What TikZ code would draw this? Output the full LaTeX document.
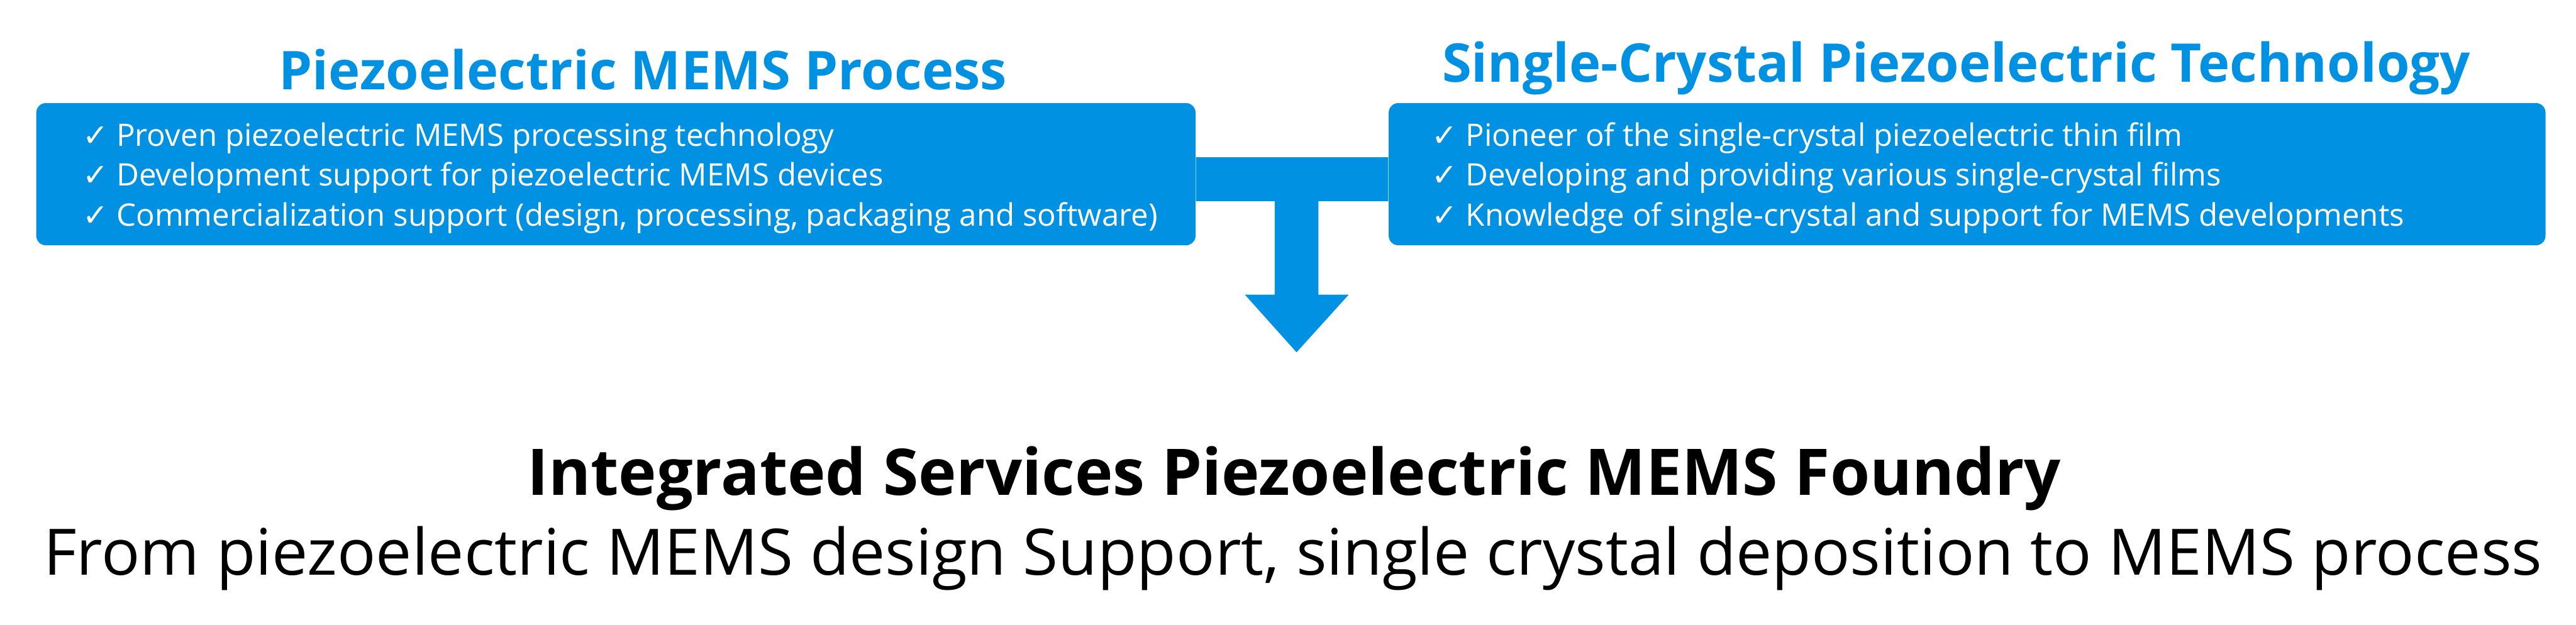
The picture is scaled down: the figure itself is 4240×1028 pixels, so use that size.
\documentclass[tikz,border=0pt]{standalone}
\usepackage{fontspec}
\setmainfont{Open Sans}
\newfontfamily\symfont{DejaVu Sans}
\definecolor{mblue}{RGB}{0,145,226}
\begin{document}
\begin{tikzpicture}[x=0.01cm,y=-0.01cm,
  box/.style={fill=mblue, rounded corners=4.5pt, inner sep=0, anchor=north west},
  ttl/.style={text=mblue, font=\fontsize{25}{30}\selectfont\bfseries, anchor=base, inner sep=0},
  item/.style={text=white, font=\fontsize{14.5}{17}\selectfont, anchor=base west, inner sep=0},
  big/.style={text=black, anchor=base, inner sep=0}]
\useasboundingbox (0,0) rectangle (4240,1028);
% boxes
\node (lbox) [box, minimum width=19.07cm, minimum height=2.34cm] at (59,169) {};
\node (rbox) [box, minimum width=19.03cm, minimum height=2.34cm] at (2285,169) {};
% titles
\node (ltitle) [ttl] at (1058,147) {Piezoelectric MEMS Process};
\node (rtitle) [ttl] at (3220,135) {Single-Crystal Piezoelectric Technology};
% items left
\node (l1) [item] at (135,241) {{\symfont ✓} Proven piezoelectric MEMS processing technology};
\node (l2) [item] at (135,306) {{\symfont ✓} Development support for piezoelectric MEMS devices};
\node (l3) [item] at (135,372) {{\symfont ✓} Commercialization support (design, processing, packaging and software)};
% items right
\node (r1) [item] at (2356,241) {{\symfont ✓} Pioneer of the single-crystal piezoelectric thin film};
\node (r2) [item] at (2356,306) {{\symfont ✓} Developing and providing various single-crystal films};
\node (r3) [item] at (2356,372) {{\symfont ✓} Knowledge of single-crystal and support for MEMS developments};
% connector
\coordinate (tip) at (2134,580);
\fill[mblue] (lbox.east |- 0,259) -- (rbox.west |- 0,259) -- (rbox.west |- 0,331)
  -- (2170,331) -- (2170,485) -- (2220,485) -- (tip) -- (2049,485) -- (2098,485)
  -- (2098,331) -- (lbox.east |- 0,331) -- cycle;
% bottom
\node (b1) [big, font=\fontsize{30.1}{36}\selectfont\bfseries] at (2130,815) {Integrated Services Piezoelectric MEMS Foundry};
\node (b2) [big, font=\fontsize{30}{36}\selectfont] at (2128,947) {From piezoelectric MEMS design Support, single crystal deposition to MEMS process};
\end{tikzpicture}
\end{document}
